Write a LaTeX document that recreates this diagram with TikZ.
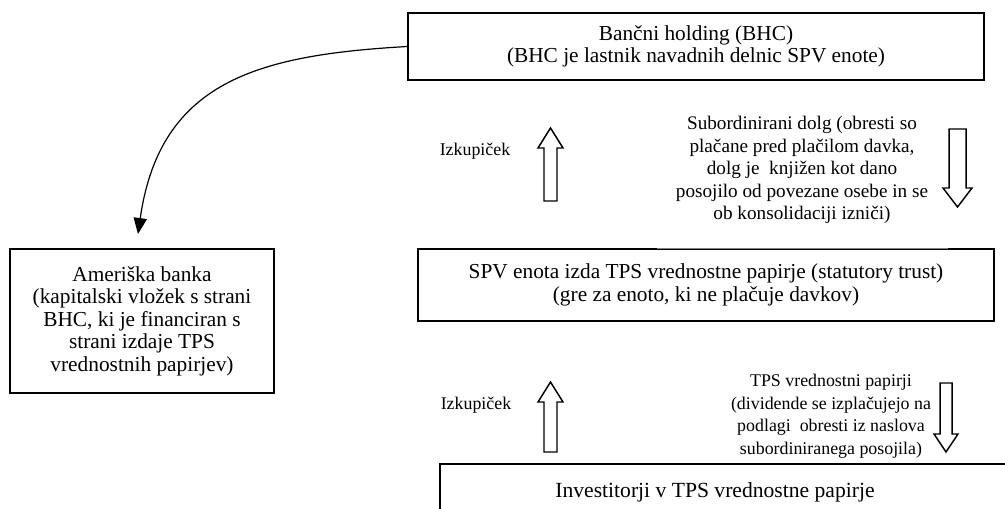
\documentclass[tikz,border=0pt]{standalone}
\usepackage{fontspec}
\setmainfont{Liberation Serif}
\usetikzlibrary{arrows.meta,calc}
\begin{document}
\begin{tikzpicture}[x=0.75pt,y=-0.75pt,
  boxline/.style={draw=black,line width=1.1pt},
  mainbox/.style={boxline,rectangle,align=center,inner sep=0pt,font=\fontsize{16}{16.9}\selectfont},
  maintext/.style={align=center,inner sep=0pt,font=\fontsize{16.2}{16.9}\selectfont},
  smalltext/.style={align=center,inner sep=0pt,font=\fontsize{14.4}{16.9}\selectfont},
  lowtext/.style={align=center,inner sep=0pt,font=\fontsize{13.4}{16.9}\selectfont},
  blockarrow/.style={draw=black,line width=1.1pt,fill=white,line join=miter},
  curvearrow/.style={draw=black,line width=0.9pt,-{Triangle[length=12pt,width=10pt]}}]
\useasboundingbox (0,0) rectangle (1005,509);
\clip (0,0) rectangle (1005,509);

% boxes
\node[mainbox,minimum width=432pt,minimum height=50.25pt] (bhc) at (696,46.5)
  {Bančni holding (BHC)\\(BHC je lastnik navadnih delnic SPV enote)};
\node[mainbox,minimum width=198pt,minimum height=108pt] (ameriska) at (142,321)
  {Ameriška banka\\(kapitalski vložek s strani\\BHC, ki je financiran s\\strani izdaje TPS\\vrednostnih papirjev)};
\node[mainbox,minimum width=432pt,minimum height=54pt] (spv) at (706,285)
  {SPV enota izda TPS vrednostne papirje (statutory trust)\\(gre za enoto, ki ne plačuje davkov)};
% gap in the top border of the SPV box
\draw[white,line width=1.6pt] ($(spv.north west)+(240,0)$) -- ($(spv.north east)+(-47,0)$);
\draw[gray,line width=0.45pt] ($(spv.north west)+(240,0)$) -- ($(spv.north east)+(-47,0)$);

\node[maintext] (inv) at (715,492) {Investitorji v TPS vrednostne papirje};
\draw[boxline] (440,464) rectangle (1015,530);

% curved connector
\coordinate (amtip) at (138,234);
\draw[curvearrow] (bhc.west) .. controls (260,55) and (160,80) .. (amtip);

% labels
\node[lowtext] (izk1) at (475,151) {Izkupiček};
\node[smalltext] (sub) at (802,170)
  {Subordinirani dolg (obresti so\\plačane pred plačilom davka,\\dolg je~ knjižen kot dano\\posojilo od povezane osebe in se\\ob konsolidaciji izniči)};
\node[lowtext] (izk2) at (476,405) {Izkupiček};
\node[lowtext] (tps) at (831,416)
  {TPS vrednostni papirji\\(dividende se izplačujejo na\\podlagi~ obresti iz naslova\\subordiniranega posojila)};

% block arrows
\draw[blockarrow] (544,201) -- (544,148) -- (538,148) -- (550.5,128) -- (563,148) -- (557,148) -- (557,201) -- cycle;
\draw[blockarrow] (544,452) -- (544,402) -- (538,402) -- (550.5,382) -- (563,402) -- (557,402) -- (557,452) -- cycle;
\draw[blockarrow] (949,129) -- (949,188) -- (943,188) -- (957.5,207) -- (972,188) -- (966,188) -- (966,129) -- cycle;
\draw[blockarrow] (940,383) -- (940,434) -- (934,434) -- (946,452) -- (958,434) -- (952,434) -- (952,383) -- cycle;
\end{tikzpicture}
\end{document}
